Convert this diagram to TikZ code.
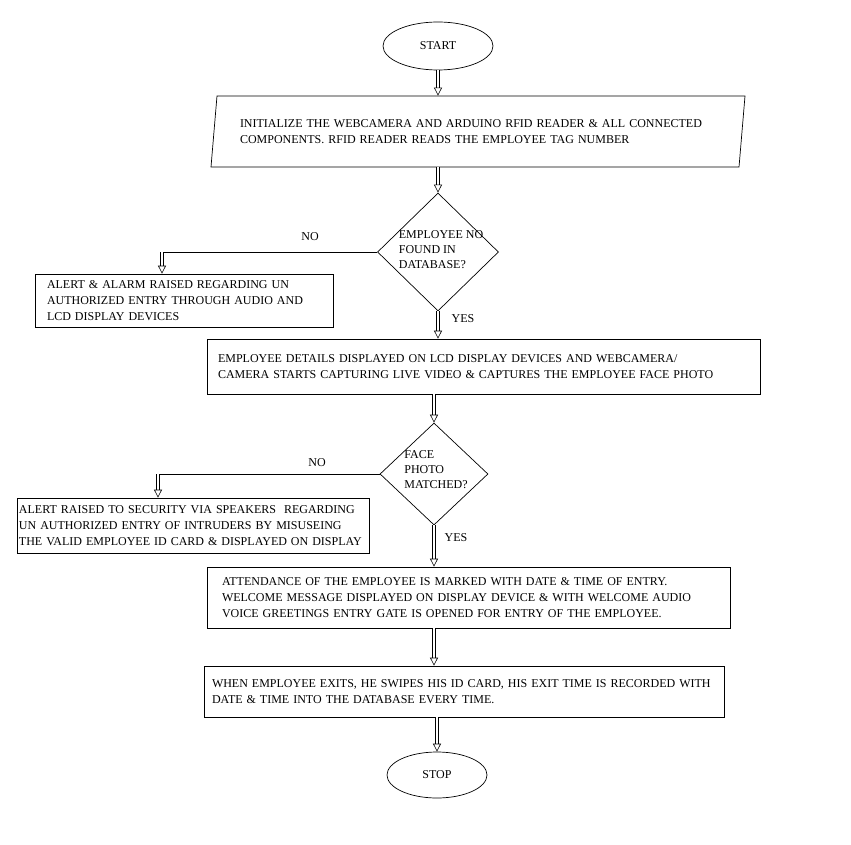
\documentclass[tikz,border=0pt]{standalone}
\usepackage{fontspec}
\setmainfont{Liberation Serif}
\usetikzlibrary{shapes.geometric,arrows.meta}
\tikzset{
	every node/.style={font=\fontsize{12}{16}\selectfont},
	box/.style={rectangle,draw=black,line width=0.7pt,align=left,inner ysep=0pt},
	term/.style={ellipse,draw=black,line width=0.7pt,inner sep=0pt},
	decide/.style={diamond,draw=black,line width=0.7pt,inner sep=0pt},
	dtext/.style={align=left,inner sep=0pt,font=\fontsize{12}{15}\selectfont},
	flow/.style={draw=black,double,double distance=2.2pt,line width=0.6pt,-{Triangle[open,length=8pt,width=8pt]}},
	link/.style={draw=black,line width=0.7pt}
}

\begin{document}
\begin{tikzpicture}[x=1pt,y=-1pt]
	\useasboundingbox (0,0) rectangle (851,845);

	\node[term,minimum width=110,minimum height=48] (start) at (438,46) {START};
	\node[trapezium,trapezium left angle=79,trapezium right angle=101,trapezium stretches body,
		draw=black,line width=0.7pt,align=left,inner xsep=0pt,text width=476,
		minimum width=534,minimum height=71] (init) at (478,131.5)
		{INITIALIZE THE WEBCAMERA AND ARDUINO RFID READER \& ALL CONNECTED\\COMPONENTS. RFID READER READS THE EMPLOYEE TAG NUMBER};

	\node[decide,minimum width=121,minimum height=118] (q1) at (438,252) {};
	\node[dtext] (q1t) at (441,250) {EMPLOYEE NO\\FOUND IN\\DATABASE?};
	\node[box,text width=274,inner xsep=12,minimum height=53] (alarm) at (184,300.5)
		{ALERT \& ALARM RAISED REGARDING UN\\AUTHORIZED ENTRY THROUGH AUDIO AND\\LCD DISPLAY DEVICES};

	\node[box,text width=531,inner xsep=11,minimum height=55] (details) at (483.5,366.5)
		{EMPLOYEE DETAILS DISPLAYED ON LCD DISPLAY DEVICES AND WEBCAMERA/\\CAMERA STARTS CAPTURING LIVE VIDEO \& CAPTURES THE EMPLOYEE FACE PHOTO};

	\node[decide,minimum width=108,minimum height=102] (q2) at (434,474) {};
	\node[dtext] (q2t) at (436,470) {FACE\\PHOTO\\MATCHED?};
	\node[box,text width=348,inner xsep=2,minimum height=55] (alarm2) at (193,525.5)
		{ALERT RAISED TO SECURITY VIA SPEAKERS~ REGARDING\\UN AUTHORIZED ENTRY OF INTRUDERS BY MISUSEING\\THE VALID EMPLOYEE ID CARD \& DISPLAYED ON DISPLAY};

	\node[box,text width=493,inner xsep=15,minimum height=61] (attend) at (468.5,597.5)
		{ATTENDANCE OF THE EMPLOYEE IS MARKED WITH DATE \& TIME OF ENTRY.\\WELCOME MESSAGE DISPLAYED ON DISPLAY DEVICE \& WITH WELCOME AUDIO\\VOICE GREETINGS ENTRY GATE IS OPENED FOR ENTRY OF THE EMPLOYEE.};

	\node[box,text width=504,inner xsep=8,minimum height=51] (exit) at (464,691.5)
		{WHEN EMPLOYEE EXITS, HE SWIPES HIS ID CARD, HIS EXIT TIME IS RECORDED WITH\\DATE \& TIME INTO THE DATABASE EVERY TIME.};

	\node[term,minimum width=100,minimum height=46] (stop) at (437,775) {STOP};

	% main line
	\foreach \a/\b/\c in {start/init/start,init/q1/q1,q1/details/q1,details/q2/q2,q2/attend/q2,attend/exit/q2,exit/stop/stop}
		\draw[flow] (\c |- \a.south) -- (\c |- \b.north);

	% no branches
	\coordinate (n1) at (162,252);
	\coordinate (n2) at (158,474);
	\draw[link] (q1.west) -- (n1);
	\draw[flow] (n1) -- (n1 |- alarm.north);
	\draw[link] (q2.west) -- (n2);
	\draw[flow] (n2) -- (n2 |- alarm2.north);

	\node (no1) at (310,237) {NO};
	\node (yes1) at (463,319) {YES};
	\node (no2) at (317,463) {NO};
	\node (yes2) at (456,538) {YES};
\end{tikzpicture}
\end{document}
